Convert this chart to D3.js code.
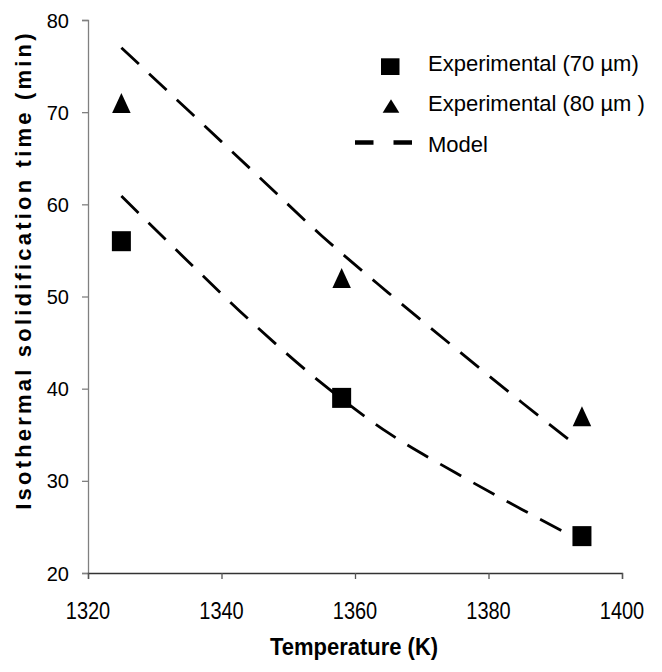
<!DOCTYPE html>
<html>
<head>
<meta charset="utf-8">
<script src="https://cdn.jsdelivr.net/npm/d3@7"></script>
<style>
  html, body { margin: 0; padding: 0; background: #fff; }
  svg { display: block; }
  text { font-family: "Liberation Sans", Arial, sans-serif; fill: #000; }
</style>
</head>
<body>
<svg id="chart" width="662" height="672"></svg>
<script>
// ---- data ----
const temps = [1325, 1358, 1394];
const exp70 = [56, 39, 24];
const exp80 = [71, 52, 37];
const modelTemps = [1325, 1335, 1345, 1355, 1365, 1375, 1385, 1392];
const model70 = [60.9, 53.8, 46.9, 40.6, 35.2, 30.9, 26.9, 24.2];
const model80 = [77.0, 70.2, 63.4, 56.6, 50.4, 44.4, 38.5, 34.5];
const xTicks = [1320, 1340, 1360, 1380, 1400];
const yTicks = [20, 30, 40, 50, 60, 70, 80];
const legendLabels = ["Experimental (70 \u00b5m)", "Experimental (80 \u00b5m )", "Model"];
const xTitle = "Temperature (K)";
const yTitle = "Isothermal solidification time (min)";

// ---- layout ----
const svg = d3.select("#chart");
const x = d3.scaleLinear().domain([1320, 1400]).range([88, 622]);
const y = d3.scaleLinear().domain([20, 80]).range([573, 20]);

// y axis
const yAxis = svg.append("g").attr("transform", "translate(88,0)")
  .call(d3.axisLeft(y).tickValues(yTicks).tickSize(6).tickFormat(""));
yAxis.select(".domain").attr("stroke", "#808080").attr("stroke-width", 1.3);
yAxis.selectAll(".tick line").attr("stroke", "#808080").attr("stroke-width", 1.3);

// x axis
const xAxis = svg.append("g").attr("transform", "translate(0,573)")
  .call(d3.axisBottom(x).tickValues(xTicks).tickSize(6).tickFormat(""));
xAxis.select(".domain").attr("stroke", "#333").attr("stroke-width", 1.3);
xAxis.selectAll(".tick line").attr("stroke", "#555").attr("stroke-width", 1.3);

// y tick labels
svg.append("g").selectAll("text").data(yTicks).join("text")
  .attr("x", 69).attr("y", d => y(d) + 7.5)
  .attr("text-anchor", "end").attr("font-size", 20)
  .text(d => d);

// x tick labels (slightly tall glyphs as in the reference)
svg.append("g").selectAll("text").data(xTicks).join("text")
  .attr("transform", d => `translate(${x(d)},619) scale(1,1.22)`)
  .attr("text-anchor", "middle").attr("font-size", 20)
  .text(d => d);

// axis titles
svg.append("text")
  .attr("transform", "translate(354,655) scale(1,1.08)")
  .attr("text-anchor", "middle").attr("font-size", 22).attr("font-weight", "bold")
  .text(xTitle);

svg.append("text")
  .attr("transform", "translate(31,270) rotate(-90)")
  .attr("text-anchor", "middle").attr("font-size", 22).attr("font-weight", "bold")
  .attr("letter-spacing", 3.2)
  .text(yTitle);

// model lines
const line = d3.line().x(d => x(d[0])).y(d => y(d[1])).curve(d3.curveMonotoneX);
[model70, model80].forEach(series => {
  svg.append("path")
    .datum(modelTemps.map((t, i) => [t, series[i]]))
    .attr("d", line)
    .attr("fill", "none").attr("stroke", "#000")
    .attr("stroke-width", 2.8).attr("stroke-dasharray", "24,14");
});

// markers
const tri = (w, h) => `M0,${-h/2}L${w/2},${h/2}L${-w/2},${h/2}Z`;
svg.append("g").selectAll("rect").data(temps.map((t, i) => [t, exp70[i]])).join("rect")
  .attr("x", d => x(d[0]) - 9.5).attr("y", d => y(d[1]) - 10)
  .attr("width", 19).attr("height", 20).attr("fill", "#000");
svg.append("g").selectAll("path").data(temps.map((t, i) => [t, exp80[i]])).join("path")
  .attr("transform", d => `translate(${x(d[0])},${y(d[1])})`)
  .attr("d", tri(18.5, 20)).attr("fill", "#000");

// legend
const lg = svg.append("g");
lg.append("rect").attr("x", 381).attr("y", 58.3).attr("width", 18.5).attr("height", 16.7).attr("fill", "#000");
lg.append("path").attr("transform", "translate(391,106)").attr("d", tri(16.7, 13.4)).attr("fill", "#000");
lg.append("line").attr("x1", 355).attr("x2", 418.5).attr("y1", 142.5).attr("y2", 142.5)
  .attr("stroke", "#000").attr("stroke-width", 4.5).attr("stroke-dasharray", "18.5,20");
lg.selectAll("text").data(legendLabels).join("text")
  .attr("x", 428).attr("y", (d, i) => [71.3, 110.8, 151.8][i])
  .attr("font-size", 22)
  .text(d => d);
</script>
</body>
</html>
